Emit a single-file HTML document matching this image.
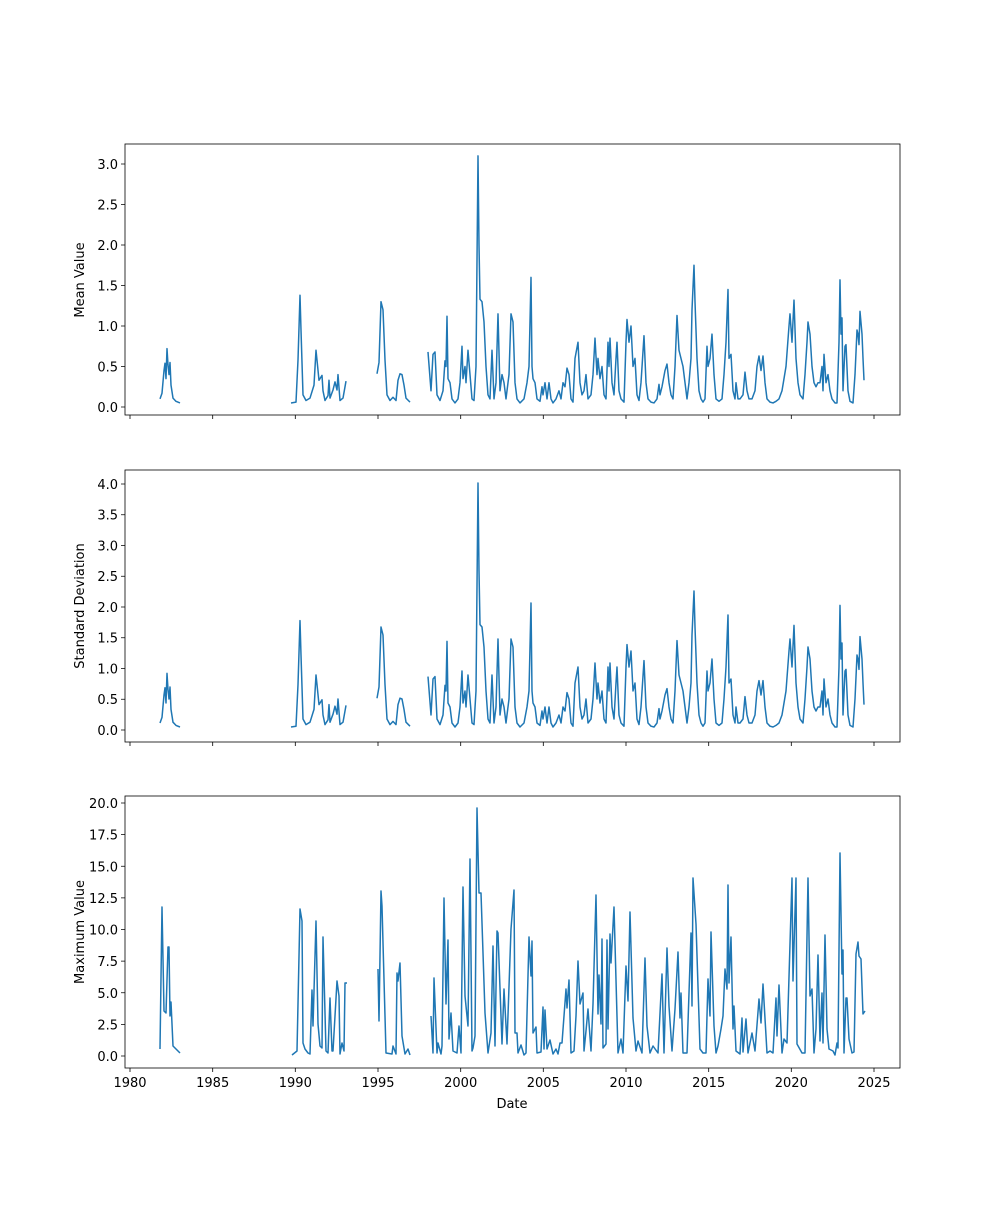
<!DOCTYPE html>
<html><head><meta charset="utf-8"><style>body{margin:0;background:#fff}svg text{font-family:"DejaVu Sans","Liberation Sans",sans-serif;font-size:13px;fill:#000}</style></head>
<body>
<svg width="1000" height="1200" xmlns="http://www.w3.org/2000/svg">
<defs>
<g id="d" fill="none" stroke="#1f77b4" stroke-width="1.5" stroke-linejoin="round">
<polyline vector-effect="non-scaling-stroke" points="160,0.1 162,0.17 164,0.45 165,0.54 166,0.35 167,0.72 168,0.52 169,0.4 170,0.55 171,0.27 173,0.11 176,0.07 180,0.05"/>
<polyline vector-effect="non-scaling-stroke" points="291,0.05 296,0.06 298,0.58 300,1.38 301,0.95 303,0.15 306,0.08 310,0.11 314,0.27 316,0.7 317,0.58 319,0.33 322,0.39 323,0.2 325,0.08 328,0.14 329,0.33 330,0.11 333,0.21 335,0.31 337,0.21 338,0.4 340,0.08 343,0.11 346,0.32"/>
<polyline vector-effect="non-scaling-stroke" points="377,0.41 379,0.55 381,1.3 383,1.2 385,0.58 387,0.15 390,0.08 393,0.12 396,0.08 398,0.33 400,0.41 402,0.4 404,0.27 406,0.11 410,0.06"/>
<polyline vector-effect="non-scaling-stroke" points="428,0.68 431,0.2 433,0.65 435,0.68 437,0.15 440,0.08 443,0.2 445,0.57 446,0.5 447,1.12 448,0.35 450,0.3 452,0.1 455,0.05 458,0.1 460,0.3 462,0.75 463,0.35 465,0.5 466,0.3 468,0.7 470,0.4 472,0.1 474,0.08 476,0.5 478,3.1 479,2.0 480,1.33 482,1.3 484,1.05 486,0.5 488,0.15 490,0.1 492,0.7 494,0.1 496,0.3 498,1.15 500,0.2 502,0.4 504,0.3 506,0.1 509,0.4 511,1.15 513,1.05 515,0.3 517,0.1 520,0.05 524,0.1 527,0.3 529,0.5 531,1.6 532,0.5 533,0.35 535,0.3 537,0.1 540,0.07 542,0.25 543,0.15 545,0.3 547,0.1 549,0.3 551,0.1 553,0.05 556,0.1 559,0.2 561,0.1 563,0.3 565,0.25 567,0.48 569,0.4 571,0.1 573,0.06 575,0.6 578,0.8 580,0.3 582,0.15 584,0.2 586,0.4 588,0.1 591,0.15 593,0.4 595,0.85 597,0.4 598,0.6 600,0.35 602,0.5 604,0.15 606,0.1 608,0.8 609,0.5 610,0.85 612,0.3 614,0.15 616,0.6 617,0.8 619,0.2 621,0.1 624,0.06 626,0.8 627,1.08 629,0.8 631,1.0 633,0.5 635,0.6 637,0.15 639,0.08 641,0.3 644,0.88 646,0.3 648,0.1 651,0.06 654,0.05 657,0.1 659,0.28 660,0.15 662,0.25 665,0.45 667,0.53 669,0.3 671,0.15 673,0.1 675,0.5 677,1.13 679,0.7 681,0.6 683,0.5 685,0.3 687,0.1 689,0.3 691,0.6 692,1.2 694,1.75 695,1.3 697,0.6 699,0.2 701,0.1 703,0.06 705,0.1 707,0.75 708,0.5 710,0.6 712,0.9 714,0.4 716,0.1 719,0.07 722,0.1 724,0.4 726,0.8 728,1.45 729,0.6 731,0.65 733,0.2 735,0.1 736,0.3 738,0.1 740,0.1 743,0.15 745,0.43 747,0.2 749,0.1 752,0.1 755,0.2 757,0.5 759,0.63 761,0.45 763,0.63 765,0.3 767,0.1 770,0.06 773,0.05 776,0.07 779,0.1 782,0.2 786,0.5 789,1.0 790,1.15 792,0.8 794,1.32 796,0.6 798,0.3 800,0.15 803,0.1 805,0.4 807,0.8 808,1.05 810,0.9 812,0.5 814,0.3 816,0.25 818,0.3 820,0.3 822,0.5 823,0.2 824,0.65 826,0.3 828,0.4 830,0.2 832,0.1 835,0.05 837,0.05 839,0.8 840,1.57 841,0.9 842,1.1 843,0.2 845,0.75 846,0.77 848,0.2 850,0.07 853,0.05 855,0.4 857,0.95 858,0.9 859,0.77 860,1.18 862,0.9 863,0.6 864,0.33"/>
</g>
</defs>
<use href="#d" transform="translate(0,407) scale(1,-81)"/>
<use href="#d" transform="translate(0,731) scale(1,-80)"/>
<g fill="none" stroke="#1f77b4" stroke-width="1.5" stroke-linejoin="round">
<polyline points="160,1049 162,907 164,1011 166,1013 168,947 169,947 170,1016 171,1002 173,1046 175,1048 178,1051 180,1053"/>
<polyline points="292,1055 297,1051 300,909 302,921 303,1043 305,1049 308,1053 310,1054 312,990 313,1026 316,921 318,1024 320,1046 322,1048 323,937 326,1051 328,1053 330,998 332,1051 333,1051 337,981 339,996 340,1054 342,1043 344,1051 345,983 347,983"/>
<polyline points="378,969 379,1021 381,891 382,906 386,1053 392,1054 393,1046 396,1054 397,973 398,981 400,963 402,1036 405,1054 408,1049 410,1055"/>
<polyline points="431,1016 433,1053 434,978 437,1053 438,1043 441,1054 442,1046 444,898 446,1004 448,940 449,1039 451,1013 453,1051 457,1053 459,1026 461,1053 463,887 465,996 468,1026 470,859 472,1051 473,1048 475,1036 477,808 479,893 481,893 485,1013 488,1053 491,1033 493,946 495,1046 497,931 498,933 502,1044 504,989 507,1044 511,929 514,890 515,1033 517,1033 518,1053 521,1045 524,1055 526,1053 529,937 531,976 532,941 533,1033 536,1027 537,1053 541,1052 543,1007 544,1049 545,1010 547,1049 550,1040 553,1054 556,1049 558,1054 560,1043 562,1043 566,989 567,1008 569,980 571,1053 574,1051 576,1016 578,961 580,1004 583,993 584,1051 586,1031 588,1009 591,1051 593,1004 596,895 598,1014 599,975 601,1024 602,939 603,1048 606,1044 607,940 608,1029 610,934 611,963 614,907 618,1053 621,1039 623,1053 626,966 628,1001 630,912 633,1018 636,1051 638,1041 642,1053 645,958 647,1026 650,1053 653,1046 658,1053 662,974 664,1053 667,948 669,1006 672,1051 675,1009 678,952 680,1018 681,993 683,1053 687,1053 691,933 692,1006 693,878 696,924 700,1049 703,1053 706,1053 708,979 710,1016 711,932 714,1026 716,1053 718,1046 721,1029 723,1016 725,969 727,989 728,885 729,983 731,937 733,1029 734,1006 736,1051 740,1054 742,1018 743,1052 746,1019 748,1053 752,1033 755,1051 759,999 761,1023 763,984 767,1053 770,1051 773,1053 776,998 777,1036 779,985 782,1053 784,1039 787,1043 792,878 793,981 796,878 797,1044 802,1053 805,1053 808,878 810,996 812,989 814,1053 816,1029 818,955 820,1041 822,993 823,1043 825,935 827,1029 829,1049 833,1051 835,1055 837,1043 838,1048 840,853 842,974 843,950 844,1053 846,998 847,998 849,1039 852,1053 854,1052 856,954 858,942 859,956 861,959 863,1014 865,1011"/>
</g>
<g fill="none" stroke="#000" stroke-width="0.8">
<rect x="125" y="144" width="775" height="271"/>
<rect x="125" y="470" width="775" height="272"/>
<rect x="125" y="796" width="775" height="272"/>
</g>
<g stroke="#000" stroke-width="0.8">
<path d="M130,415v4M212.7,415v4M295.3,415v4M378,415v4M460.7,415v4M543.3,415v4M626,415v4M708.7,415v4M791.3,415v4M874,415v4"/>
<path d="M130,742v4M212.7,742v4M295.3,742v4M378,742v4M460.7,742v4M543.3,742v4M626,742v4M708.7,742v4M791.3,742v4M874,742v4"/>
<path d="M130,1068v4M212.7,1068v4M295.3,1068v4M378,1068v4M460.7,1068v4M543.3,1068v4M626,1068v4M708.7,1068v4M791.3,1068v4M874,1068v4"/>
<path d="M121,407h4M121,366.5h4M121,326h4M121,285.5h4M121,245h4M121,204.5h4M121,164h4"/>
<path d="M121,730h4M121,699.25h4M121,668.5h4M121,637.75h4M121,607h4M121,576.25h4M121,545.5h4M121,514.75h4M121,484h4"/>
<path d="M121,1056h4M121,1024.4h4M121,992.75h4M121,961.1h4M121,929.5h4M121,897.9h4M121,866.25h4M121,834.6h4M121,803h4"/>
</g>
<g text-anchor="end">
<text x="118" y="412">0.0</text><text x="118" y="371.5">0.5</text><text x="118" y="331">1.0</text><text x="118" y="290.5">1.5</text><text x="118" y="250">2.0</text><text x="118" y="209.5">2.5</text><text x="118" y="169">3.0</text>
<text x="118" y="735">0.0</text><text x="118" y="704">0.5</text><text x="118" y="673.5">1.0</text><text x="118" y="642.5">1.5</text><text x="118" y="612">2.0</text><text x="118" y="581">2.5</text><text x="118" y="550.5">3.0</text><text x="118" y="519.5">3.5</text><text x="118" y="489">4.0</text>
<text x="118" y="1061">0.0</text><text x="118" y="1029.4">2.5</text><text x="118" y="997.75">5.0</text><text x="118" y="966.1">7.5</text><text x="118" y="934.5">10.0</text><text x="118" y="902.9">12.5</text><text x="118" y="871.25">15.0</text><text x="118" y="839.6">17.5</text><text x="118" y="808">20.0</text>
</g>
<g text-anchor="middle">
<text x="130" y="1087">1980</text><text x="212.7" y="1087">1985</text><text x="295.3" y="1087">1990</text><text x="378" y="1087">1995</text><text x="460.7" y="1087">2000</text><text x="543.3" y="1087">2005</text><text x="626" y="1087">2010</text><text x="708.7" y="1087">2015</text><text x="791.3" y="1087">2020</text><text x="874" y="1087">2025</text>
<text x="512" y="1108">Date</text>
<text transform="translate(84,280) rotate(-90)">Mean Value</text>
<text transform="translate(84,606) rotate(-90)">Standard Deviation</text>
<text transform="translate(84,932) rotate(-90)">Maximum Value</text>
</g>
</svg>
</body></html>
